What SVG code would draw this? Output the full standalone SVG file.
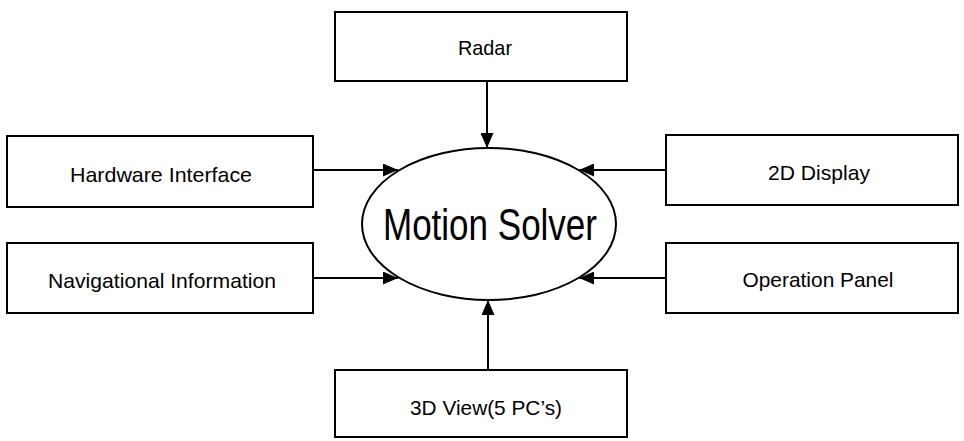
<svg xmlns="http://www.w3.org/2000/svg" width="964" height="441" viewBox="0 0 964 441">
  <style>
    .box { fill: #fff; stroke: #000; stroke-width: 2; }
    .link { stroke: #000; stroke-width: 2; fill: none; marker-end: url(#arrow); }
    .lbl { font-family: "Liberation Sans", Arial, sans-serif; font-size: 21px; fill: #000; text-anchor: middle; }
    .core { font-family: "Liberation Sans", Arial, sans-serif; font-size: 44px; fill: #000; text-anchor: middle; }
  </style>
  <defs>
    <marker id="arrow" viewBox="0 0 15 13" refX="15" refY="6.5" markerWidth="15" markerHeight="13" markerUnits="userSpaceOnUse" orient="auto">
      <path d="M0,0 L15,6.5 L0,13 Z" fill="#000"/>
    </marker>
  </defs>
  <rect width="964" height="441" fill="#fff"/>

  <g id="connectors">
    <line class="link" x1="487" y1="81" x2="487" y2="148"/>
    <line class="link" x1="313" y1="170" x2="398" y2="170"/>
    <line class="link" x1="313" y1="278" x2="398" y2="278"/>
    <line class="link" x1="666" y1="170" x2="579" y2="170"/>
    <line class="link" x1="666" y1="278" x2="579" y2="278"/>
    <line class="link" x1="488" y1="370" x2="488" y2="300"/>
  </g>

  <g id="motion-solver">
    <ellipse cx="489" cy="224" rx="127" ry="76" fill="#fff" stroke="#000" stroke-width="2"/>
    <text class="core" x="490" y="240" textLength="214" lengthAdjust="spacingAndGlyphs">Motion Solver</text>
  </g>

  <g id="radar">
    <rect class="box" x="335" y="12" width="292" height="69"/>
    <text class="lbl" x="485" y="55" textLength="54" lengthAdjust="spacingAndGlyphs">Radar</text>
  </g>

  <g id="hardware-interface">
    <rect class="box" x="7" y="136" width="306" height="71"/>
    <text class="lbl" x="161" y="182" textLength="182" lengthAdjust="spacingAndGlyphs">Hardware Interface</text>
  </g>

  <g id="navigational-information">
    <rect class="box" x="7" y="243" width="306" height="70"/>
    <text class="lbl" x="162" y="288" textLength="228" lengthAdjust="spacingAndGlyphs">Navigational Information</text>
  </g>

  <g id="display-2d">
    <rect class="box" x="666" y="135" width="292" height="70"/>
    <text class="lbl" x="819" y="180" textLength="102" lengthAdjust="spacingAndGlyphs">2D Display</text>
  </g>

  <g id="operation-panel">
    <rect class="box" x="666" y="243" width="292" height="70"/>
    <text class="lbl" x="818" y="287" textLength="151" lengthAdjust="spacingAndGlyphs">Operation Panel</text>
  </g>

  <g id="view-3d">
    <rect class="box" x="335" y="370" width="292" height="67"/>
    <text class="lbl" x="486" y="415" textLength="152" lengthAdjust="spacingAndGlyphs">3D View(5 PC’s)</text>
  </g>
</svg>
